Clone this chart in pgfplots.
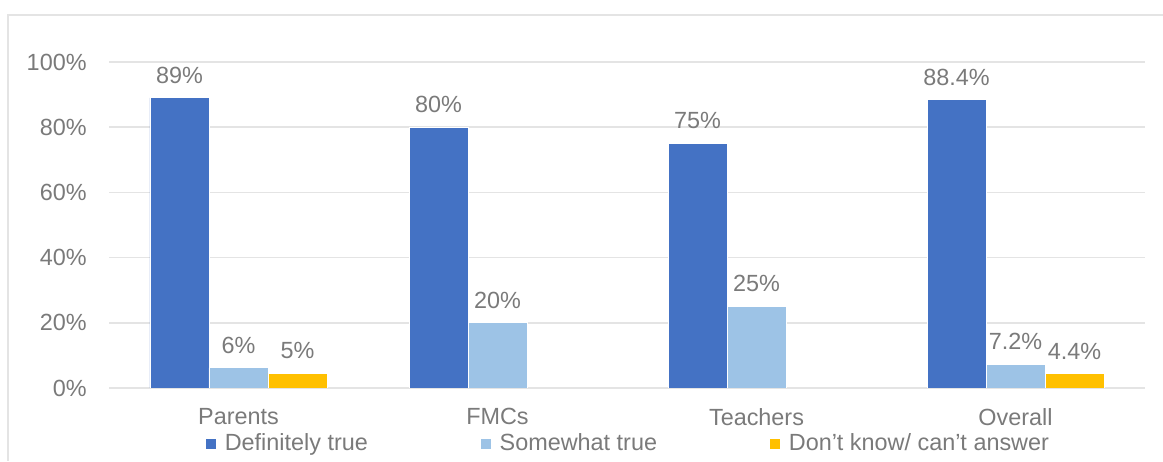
\documentclass[border=0pt]{standalone}
\usepackage{fontspec}
\setmainfont{Liberation Sans}
\usepackage{pgfplots}
\pgfplotsset{compat=1.18}
\definecolor{dtblue}{HTML}{4472C4}
\definecolor{swblue}{HTML}{9DC3E6}
\definecolor{dkyellow}{HTML}{FFC000}
\definecolor{txtgray}{HTML}{7A7A7A}
\definecolor{gridgray}{HTML}{E4E4E4}
\newcommand{\lblfont}{\fontsize{11.7}{14}\selectfont}

\begin{document}
\begin{tikzpicture}
\useasboundingbox (0,0) rectangle (581.5pt,230.5pt);
% chart frame, cut at right and bottom
\draw[gridgray, line width=0.75pt] (4pt,0) -- (4pt,223pt) -- (581.5pt,223pt);
\begin{axis}[
    at={(54.5pt,36.5pt)}, anchor=south west,
    width=518pt, height=163pt, scale only axis,
    ybar=0pt, bar width=29.5pt,
    xmin=-0.5, xmax=3.5, ymin=0, ymax=100,
    xtick={0,1,2,3},
    xticklabels={Parents,FMCs,Teachers,Overall},
    ytick={0,20,40,60,80,100},
    yticklabel={\pgfmathprintnumber{\tick}\%},
    /pgf/number format/assume math mode=true,
    ymajorgrids=true,
    grid style={gridgray, line width=0.75pt},
    axis line style={draw=none},
    major tick length=0pt,
    tick label style={font=\lblfont, text=txtgray},
    yticklabel style={anchor=east, inner sep=0pt, xshift=-11pt},
    xticklabel style={anchor=north, inner sep=0pt, yshift=-10pt},
    nodes near coords,
    point meta=explicit symbolic,
    every node near coord/.append style={font=\lblfont, text=txtgray, inner sep=0pt, anchor=south, yshift=7pt},
    legend columns=3,
    legend style={at={(0.5,-0.1718)}, anchor=center, draw=none, font=\lblfont, text=txtgray,
        inner sep=0pt, nodes={inner sep=0pt},
        /tikz/every odd column/.append style={column sep=4pt},
        /tikz/every even column/.append style={column sep=56pt}},
    legend image code/.code={\fill[#1] (0pt,-2.75pt) rectangle (5.5pt,2.75pt);},
]
\addplot[fill=dtblue, draw=white, line width=0.4pt] coordinates {
    (0,89) [89\%]
    (1,80) [80\%]
    (2,75) [75\%]
    (3,88.4) [88.4\%]
};
\addlegendentry{Definitely true}
\addplot[fill=swblue, draw=white, line width=0.4pt] coordinates {
    (0,6.2) [6\%]
    (1,20) [20\%]
    (2,25) [25\%]
    (3,7.2) [7.2\%]
};
\addlegendentry{Somewhat true}
\addplot[fill=dkyellow, draw=white, line width=0.4pt] coordinates {
    (0,4.6) [5\%]
    (3,4.4) [4.4\%]
};
\addlegendentry{Don’t know/ can’t answer}
\end{axis}
\end{tikzpicture}
\end{document}
